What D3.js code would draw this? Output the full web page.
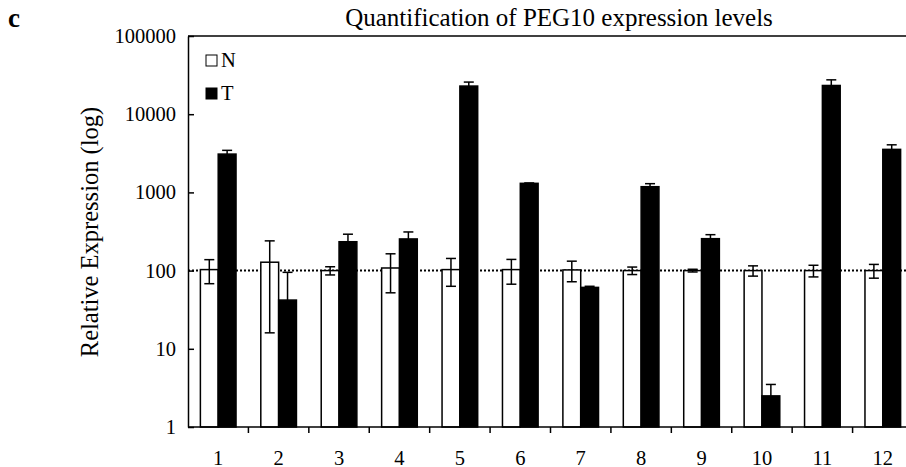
<!DOCTYPE html>
<html>
<head>
<meta charset="utf-8">
<script src="https://cdn.jsdelivr.net/npm/d3@7"></script>
<style>
  body { margin: 0; background: #fff; }
  svg { display: block; font-family: "Liberation Serif", "Times New Roman", serif; }
</style>
</head>
<body>
<svg id="chart"></svg>
<script>
var categories = ["1", "2", "3", "4", "5", "6", "7", "8", "9", "10", "11", "12"];
var seriesNames = ["N", "T"];
var nValues = [103, 128, 100, 108, 103, 103, 102, 100, 100, 100, 100, 100];
var nErrors = [35, 112, 12, 56, 40, 36, 30, 11, 4, 15, 17, 20];
var tValues = [3090, 42, 234, 254, 22900, 1306, 61, 1183, 256, 2.5, 23300, 3550];
var tErrors = [360, 53, 58, 58, 2850, 15, 2, 110, 32, 1.0, 4200, 510];
var yTicks = [1, 10, 100, 1000, 10000, 100000];
var refLine = 100;

var w = 906;
var h = 467;
// plot box (right edge runs past the window, as in the original crop)
var pLeft = 188, pRight = 913, pTop = 36, pBottom = 427;

var svg = d3.select("#chart")
  .attr("width", w)
  .attr("height", h);

var x0 = d3.scaleBand()
  .domain(categories)
  .range([pLeft, pRight])
  .paddingInner(0.41)
  .paddingOuter(0.205);

var x1 = d3.scaleBand()
  .domain(seriesNames)
  .range([0, x0.bandwidth()]);

var y = d3.scaleLog()
  .domain([1, 100000])
  .range([pBottom, pTop]);

var rows = categories.map(function(c, i){
  return [
    {cat: c, s: "N", v: nValues[i], e: nErrors[i]},
    {cat: c, s: "T", v: tValues[i], e: tErrors[i]}
  ];
});

// dotted reference line at 100
svg.append("line")
  .attr("x1", pLeft).attr("x2", pRight)
  .attr("y1", y(refLine)).attr("y2", y(refLine))
  .attr("stroke", "#000")
  .attr("stroke-width", 2)
  .attr("stroke-dasharray", "2,2");

var groups = svg.selectAll("g.grp")
  .data(rows)
  .enter()
  .append("g")
    .attr("class", "grp")
    .attr("transform", function(d){ return "translate(" + x0(d[0].cat) + ",0)"; });

groups.selectAll("rect")
  .data(function(d){ return d; })
  .enter()
  .append("rect")
    .attr("x", function(d){ return x1(d.s); })
    .attr("y", function(d){ return y(d.v); })
    .attr("width", x1.bandwidth())
    .attr("height", function(d){ return pBottom - y(d.v); })
    .attr("fill", function(d){ return d.s == "N" ? "#fff" : "#000"; })
    .attr("stroke", "#000")
    .attr("stroke-width", 1.5);

// error bars: N both ways, T only upward
var capW = 10;
groups.selectAll("g.err")
  .data(function(d){ return d; })
  .enter()
  .append("g")
    .attr("class", "err")
    .each(function(d){
      var cx = x1(d.s) + x1.bandwidth() / 2;
      var hi = y(d.v + d.e);
      var lo = d.s == "N" ? y(d.v - d.e) : y(d.v);
      var g = d3.select(this);
      g.append("line").attr("x1", cx).attr("x2", cx).attr("y1", hi).attr("y2", lo);
      g.append("line").attr("x1", cx - capW / 2).attr("x2", cx + capW / 2).attr("y1", hi).attr("y2", hi);
      if(d.s == "N"){
        g.append("line").attr("x1", cx - capW / 2).attr("x2", cx + capW / 2).attr("y1", lo).attr("y2", lo);
      }
    })
    .attr("stroke", "#000")
    .attr("stroke-width", 1.5);

// y axis
var yAxis = d3.axisLeft(y)
  .tickValues(yTicks)
  .tickFormat(d3.format("d"))
  .tickSizeInner(-6)
  .tickSizeOuter(0)
  .tickPadding(12);

var gy = svg.append("g")
  .attr("transform", "translate(" + pLeft + ",0)")
  .call(yAxis);
gy.select(".domain").attr("stroke-width", 1.5);
gy.selectAll(".tick line").attr("stroke-width", 1.5);
gy.selectAll(".tick text")
  .attr("font-size", 20.5)
  .attr("font-family", "Liberation Serif")
  .attr("fill", "#000");

// x axis: ticks on band boundaries, labels at centres
svg.append("line")
  .attr("x1", pLeft).attr("x2", pRight)
  .attr("y1", pBottom).attr("y2", pBottom)
  .attr("stroke", "#000").attr("stroke-width", 1.5);

svg.selectAll("line.xtick")
  .data(categories.slice(1))
  .enter()
  .append("line")
    .attr("class", "xtick")
    .attr("x1", function(d){ return x0(d) - x0.step() * 0.205; })
    .attr("x2", function(d){ return x0(d) - x0.step() * 0.205; })
    .attr("y1", pBottom).attr("y2", pBottom + 6)
    .attr("stroke", "#000").attr("stroke-width", 1.5);

svg.selectAll("text.xlab")
  .data(categories)
  .enter()
  .append("text")
    .attr("class", "xlab")
    .attr("x", function(d){ return x0(d) + x0.bandwidth() / 2; })
    .attr("y", 465)
    .attr("text-anchor", "middle")
    .attr("font-size", 20.5)
    .text(function(d){ return d; });

// top frame line
svg.append("line")
  .attr("x1", pLeft).attr("x2", pRight)
  .attr("y1", pTop).attr("y2", pTop)
  .attr("stroke", "#000").attr("stroke-width", 1.5);

// title, panel letter, y label
svg.append("text")
  .attr("x", 559).attr("y", 26)
  .attr("text-anchor", "middle")
  .attr("font-size", 25)
  .text("Quantification of PEG10 expression levels");

svg.append("text")
  .attr("x", 8).attr("y", 27)
  .attr("font-size", 27)
  .attr("font-weight", "bold")
  .text("c");

svg.append("text")
  .attr("transform", "translate(98,232) rotate(-90)")
  .attr("text-anchor", "middle")
  .attr("font-size", 24.5)
  .text("Relative Expression (log)");

// legend
var legend = svg.selectAll("g.leg")
  .data(seriesNames)
  .enter()
  .append("g")
    .attr("class", "leg")
    .attr("transform", function(d, i){ return "translate(206," + (55 + i * 33) + ")"; });

legend.append("rect")
  .attr("width", 11).attr("height", 11)
  .attr("fill", function(d){ return d == "N" ? "#fff" : "#000"; })
  .attr("stroke", "#000").attr("stroke-width", 1);

legend.append("text")
  .attr("x", 15).attr("y", 11.5)
  .attr("font-size", 20.5)
  .text(function(d){ return d; });
</script>
</body>
</html>
